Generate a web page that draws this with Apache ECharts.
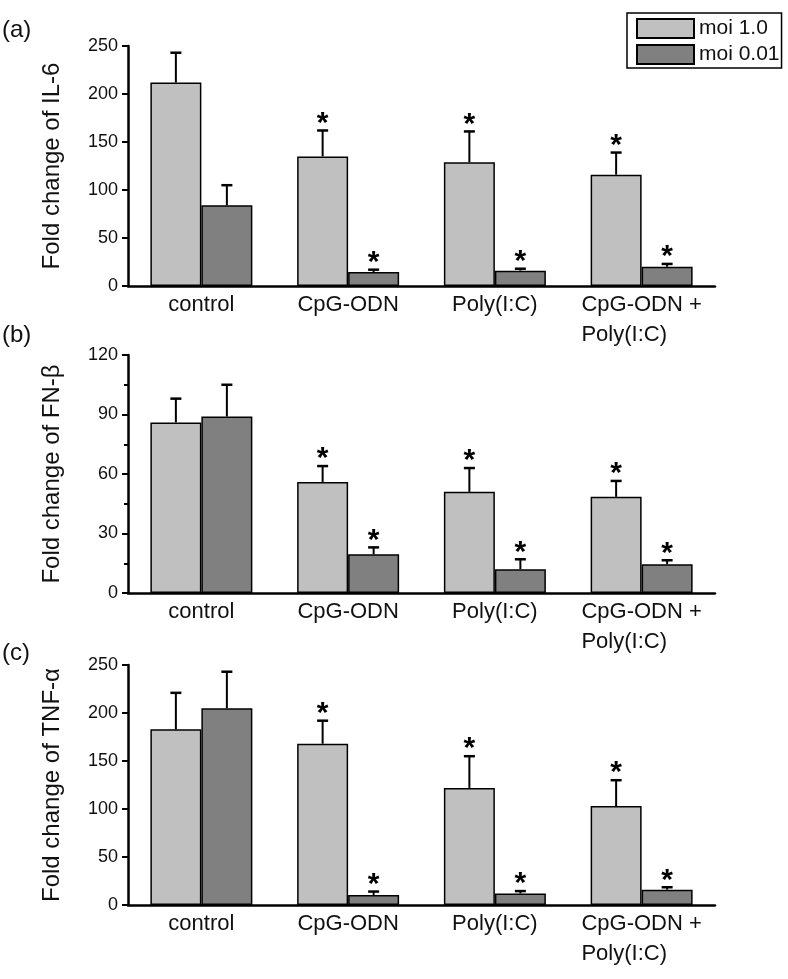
<!DOCTYPE html>
<html lang="en">
<head>
    <meta charset="UTF-8">
    <title>Fold change of IL-6, FN-β, TNF-α</title>
    <script src="https://cdn.jsdelivr.net/npm/echarts@6/dist/echarts.min.js"></script>
    <style>
        html, body { margin: 0; padding: 0; background: #fff; }
        #main { width: 788px; height: 979px; }
    </style>
</head>
<body>
<div id="main"></div>

<script>
    // categories shared by the three panels
    const categories = ['control', 'CpG-ODN', 'Poly(I:C)', 'CpG-ODN +\nPoly(I:C)'];
    const seriesNames = ['moi 1.0', 'moi 0.01'];
    // 1 = asterisk above the bar
    const significant = [0, 1, 1, 1];

    // (a) IL-6
    const il6Moi1 = [212, 135, 129, 116];
    const il6Moi1Sd = [31, 27, 32, 23];
    const il6Moi001 = [84, 14.5, 16, 20];
    const il6Moi001Sd = [21, 2.5, 2, 3];

    // (b) FN-β
    const fnbMoi1 = [86, 56, 51, 48.5];
    const fnbMoi1Sd = [12, 8, 12, 8];
    const fnbMoi001 = [89, 19.5, 12, 14.5];
    const fnbMoi001Sd = [16, 3.5, 5, 2];

    // (c) TNF-α
    const tnfMoi1 = [183, 168, 122, 103];
    const tnfMoi1Sd = [38, 24, 33, 27];
    const tnfMoi001 = [205, 10.5, 12, 16];
    const tnfMoi001Sd = [38, 3.5, 2.5, 2.5];

    const FONT = 'Liberation Sans, Arial, sans-serif';
    const LIGHT = '#c0c0c0';
    const DARK = '#808080';
    const BAR_FRAC = 0.3475;

    const panels = [
        {tag: '(a)', name: 'Fold change of IL-6', max: 250, interval: 50, minor: false,
            top: 46, height: 240, tagTop: 18,
            m1: il6Moi1, s1: il6Moi1Sd, m2: il6Moi001, s2: il6Moi001Sd},
        {tag: '(b)', name: 'Fold change of FN-β', max: 120, interval: 30, minor: true,
            top: 355, height: 238, tagTop: 323,
            m1: fnbMoi1, s1: fnbMoi1Sd, m2: fnbMoi001, s2: fnbMoi001Sd},
        {tag: '(c)', name: 'Fold change of TNF-α', max: 250, interval: 50, minor: false,
            top: 665, height: 240, tagTop: 641,
            m1: tnfMoi1, s1: tnfMoi1Sd, m2: tnfMoi001, s2: tnfMoi001Sd}
    ];

    let errRender = (params, api) => {
        const cat = api.value(0);
        const side = api.value(1);
        const val = api.value(2);
        const top = api.value(3);
        const star = api.value(4);
        const base = api.coord([cat, val]);
        const tip = api.coord([cat, top]);
        const bw = api.size([1, 0])[0] * BAR_FRAC;
        const x = base[0] + (side === 0 ? -bw / 2 : bw / 2);
        const children = [
            {type: 'line', shape: {x1: x, y1: base[1], x2: x, y2: tip[1]},
                style: {stroke: '#000', lineWidth: 2}},
            {type: 'line', shape: {x1: x - 5.5, y1: tip[1], x2: x + 5.5, y2: tip[1]},
                style: {stroke: '#000', lineWidth: 2.5}}
        ];
        if (star) {
            children.push({type: 'text', style: {
                text: '*', x: x, y: tip[1] - 7, align: 'center', verticalAlign: 'middle',
                font: 'bold 30px ' + FONT, fill: '#000'
            }});
        }
        return {type: 'group', children: children};
    };

    const grid = [], xAxis = [], yAxis = [], series = [], title = [];

    panels.forEach((p, i) => {
        grid.push({left: 128, right: 73, top: p.top, height: p.height});
        title.push({
            text: p.tag, left: 2, top: p.tagTop, padding: 0,
            textStyle: {fontFamily: FONT, fontSize: 24, fontWeight: 'normal', color: '#111'}
        });
        xAxis.push({
            type: 'category', gridIndex: i, data: categories,
            axisLine: {lineStyle: {color: '#000', width: 2.5}},
            axisTick: {show: false},
            axisLabel: {
                color: '#111', fontFamily: FONT, fontSize: 22, lineHeight: 30, margin: 4,
                interval: 0,
                formatter: (v) => v.indexOf('\n') >= 0
                    ? v.split('\n').map(s => '{l|' + s + '}').join('\n') : v,
                rich: {l: {align: 'left', fontFamily: FONT, fontSize: 22, lineHeight: 30, color: '#111'}}
            }
        });
        yAxis.push({
            type: 'value', gridIndex: i, min: 0, max: p.max, interval: p.interval,
            name: p.name, nameLocation: 'middle', nameGap: 64,
            nameTextStyle: {fontFamily: FONT, fontSize: 24, color: '#111'},
            axisLine: {show: true, lineStyle: {color: '#000', width: 2.5}},
            axisTick: {show: true, length: 6, lineStyle: {color: '#000', width: 2}},
            minorTick: {show: p.minor, splitNumber: 2, length: 4, lineStyle: {color: '#000', width: 2}},
            splitLine: {show: false},
            axisLabel: {color: '#111', fontFamily: FONT, fontSize: 18, margin: 10}
        });
        [[p.m1, LIGHT], [p.m2, DARK]].forEach((s, k) => {
            series.push({
                type: 'bar', name: seriesNames[k], xAxisIndex: i, yAxisIndex: i,
                data: s[0], barWidth: (BAR_FRAC * 100) + '%', barGap: '0%',
                itemStyle: {color: s[1], borderColor: '#000', borderWidth: 1.5},
                silent: true
            });
        });
        const errData = [];
        for (let c = 0; c < categories.length; c++) {
            errData.push([c, 0, p.m1[c], p.m1[c] + p.s1[c], significant[c]]);
            errData.push([c, 1, p.m2[c], p.m2[c] + p.s2[c], significant[c]]);
        }
        series.push({
            type: 'custom', xAxisIndex: i, yAxisIndex: i, data: errData,
            renderItem: errRender, z: 5, silent: true
        });
    });

    const myChart = echarts.init(document.getElementById('main'));
    myChart.setOption({
        animation: false,
        backgroundColor: '#fff',
        title: title,
        legend: {
            data: seriesNames, orient: 'vertical', left: 627, top: 13,
            itemWidth: 57, itemHeight: 19, itemGap: 5,
            padding: [5, 2, 3, 9],
            borderColor: '#000', borderWidth: 1.5,
            icon: 'rect',
            textStyle: {fontFamily: FONT, fontSize: 21, lineHeight: 21, color: '#111'}
        },
        grid: grid,
        xAxis: xAxis,
        yAxis: yAxis,
        series: series
    });
</script>

</body>
</html>
